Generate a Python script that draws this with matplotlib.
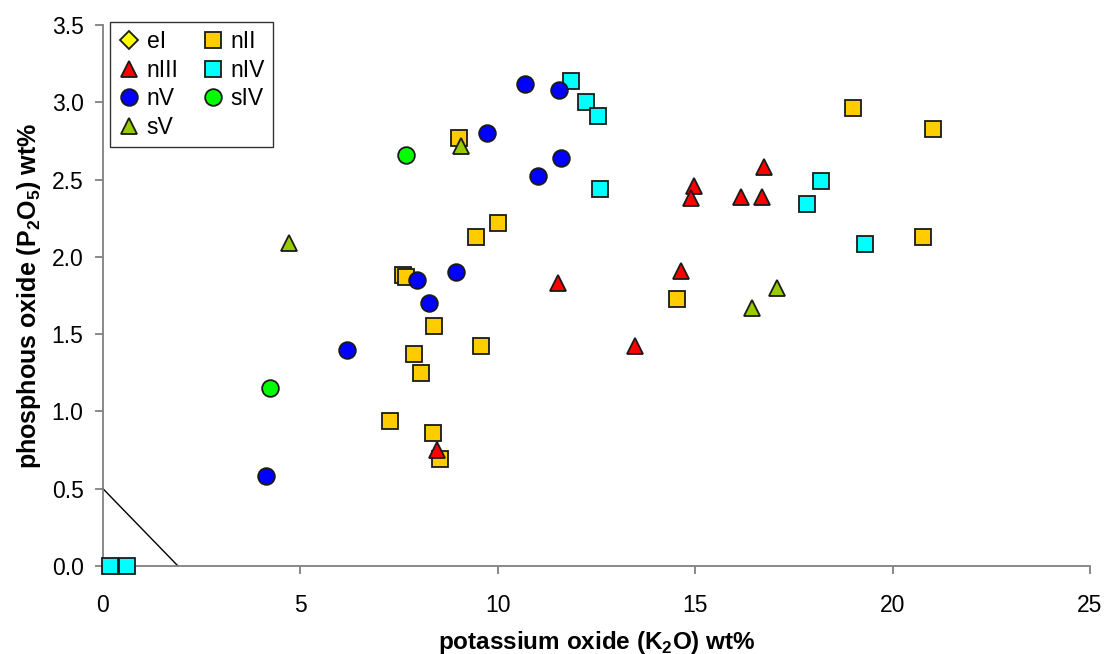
import matplotlib.pyplot as plt

plt.rcParams['font.family'] = ['Liberation Sans', 'DejaVu Sans']
plt.rcParams['mathtext.fontset'] = 'custom'
plt.rcParams['mathtext.rm'] = 'Liberation Sans'
plt.rcParams['mathtext.bf'] = 'Liberation Sans:bold'

# data: K2O (x) and P2O5 (y), wt%
eI_x = []
eI_y = []
nII_x = [9.01, 9.46, 10.0, 7.6, 7.68, 8.38, 9.57, 7.89, 8.06, 7.28, 8.36, 8.54, 14.53, 20.78, 21.03, 19.0]
nII_y = [2.77, 2.13, 2.22, 1.88, 1.87, 1.55, 1.42, 1.37, 1.25, 0.94, 0.86, 0.69, 1.73, 2.13, 2.83, 2.96]
nIII_x = [16.75, 14.97, 14.9, 16.16, 16.7, 14.64, 13.48, 11.52, 8.46]
nIII_y = [2.58, 2.46, 2.38, 2.39, 2.39, 1.91, 1.42, 1.83, 0.75]
nIV_x = [11.86, 12.24, 12.54, 12.58, 18.2, 17.84, 19.31, 0.17, 0.6]
nIV_y = [3.14, 3.0, 2.91, 2.44, 2.49, 2.34, 2.08, 0.0, 0.0]
nV_x = [10.68, 11.55, 11.59, 11.02, 9.73, 7.95, 8.95, 8.25, 6.18, 4.12]
nV_y = [3.12, 3.08, 2.64, 2.52, 2.80, 1.85, 1.90, 1.70, 1.40, 0.58]
sIV_x = [7.68, 4.24]
sIV_y = [2.66, 1.15]
sV_x = [9.08, 4.72, 17.08, 16.44]
sV_y = [2.72, 2.09, 1.80, 1.67]

# boundary line in the lower left corner
line_x = [0, 1.9]
line_y = [0.5, 0]

series = [
    ("eI", eI_x, eI_y, "D", "#FFFF00", 9),
    ("nII", nII_x, nII_y, "s", "#FFCC00", 11.5),
    ("nIII", nIII_x, nIII_y, "^", "#FF0000", 12),
    ("nIV", nIV_x, nIV_y, "s", "#00FFFF", 11.5),
    ("nV", nV_x, nV_y, "o", "#0000FF", 12),
    ("sIV", sIV_x, sIV_y, "o", "#00FF00", 12),
    ("sV", sV_x, sV_y, "^", "#99CC00", 12),
]

fig = plt.figure(figsize=(11.07, 6.54), dpi=100)
ax = fig.add_axes([0.093, 0.1346, 0.8916, 0.8272])

ax.plot(line_x, line_y, color="black", linewidth=1, zorder=2, clip_on=False)

handles = {}
for name, xs, ys, mk, col, ms in series:
    h, = ax.plot(xs, ys, linestyle="none", marker=mk, markersize=ms,
                 markerfacecolor=col, markeredgecolor="#1a1a1a", markeredgewidth=1.3,
                 clip_on=False, zorder=3, label=name)
    handles[name] = h

ax.set_xlim(0, 25)
ax.set_ylim(0, 3.5)
ax.set_xticks([0, 5, 10, 15, 20, 25])
ax.set_yticks([0, 0.5, 1.0, 1.5, 2.0, 2.5, 3.0, 3.5])
ax.set_yticklabels(["0.0", "0.5", "1.0", "1.5", "2.0", "2.5", "3.0", "3.5"])

for side in ["top", "right"]:
    ax.spines[side].set_visible(False)
for side in ["left", "bottom"]:
    ax.spines[side].set_color("#808080")
    ax.spines[side].set_linewidth(1.3)

ax.tick_params(axis="both", direction="out", length=6, width=1.3, color="#808080",
               labelsize=16.5)
ax.tick_params(axis="x", pad=14)
ax.tick_params(axis="y", pad=8)

ax.set_xlabel(r"potassium oxide (K$_\mathbf{2}$O) wt%", fontsize=17.5, fontweight="bold",
              labelpad=9)
ax.set_ylabel(r"phosphous oxide (P$_\mathbf{2}$O$_\mathbf{5}$) wt%", fontsize=18,
              fontweight="bold", labelpad=6)

order = ["eI", "nIII", "nV", "sV", "nII", "nIV", "sIV"]
leg = fig.legend([handles[n] for n in order], order, ncol=2, loc="upper left",
                 bbox_to_anchor=(110 / 1107, 1 - 22 / 654), fontsize=16.5,
                 frameon=True, fancybox=False, edgecolor="black",
                 handlelength=1.0, handletextpad=0.25, columnspacing=1.0,
                 labelspacing=0.25, borderpad=0.35, borderaxespad=0)
leg.get_frame().set_linewidth(1.0)

fig.savefig("out.png", dpi=100)
